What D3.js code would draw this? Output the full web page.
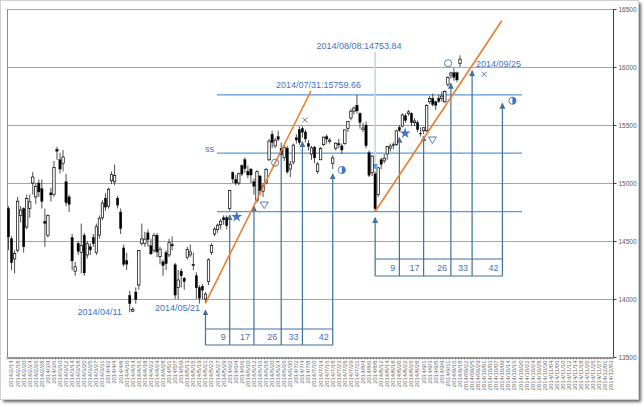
<!DOCTYPE html>
<html><head><meta charset="utf-8">
<script src="https://cdn.jsdelivr.net/npm/d3@7"></script>
<style>
body{margin:0;background:#fff}
svg{display:block}
text{font-family:"Liberation Sans",Arial,sans-serif}
</style>
</head><body>
<svg id="c" width="644" height="407"></svg>
<script>
// ---------------- DATA ----------------
const dates = [
"2014/2/13","2014/2/14","2014/2/17","2014/2/18","2014/2/19","2014/2/20","2014/2/21","2014/2/24","2014/2/25","2014/2/26","2014/2/27","2014/2/28",
"2014/3/3","2014/3/4","2014/3/5","2014/3/6","2014/3/7","2014/3/10","2014/3/11","2014/3/12","2014/3/13","2014/3/14","2014/3/17","2014/3/18","2014/3/19","2014/3/20","2014/3/24","2014/3/25","2014/3/26","2014/3/27","2014/3/28","2014/3/31",
"2014/4/1","2014/4/2","2014/4/3","2014/4/4","2014/4/7","2014/4/8","2014/4/9","2014/4/10","2014/4/11","2014/4/14","2014/4/15","2014/4/16","2014/4/17","2014/4/18","2014/4/21","2014/4/22","2014/4/23","2014/4/24","2014/4/25","2014/4/28","2014/4/30",
"2014/5/1","2014/5/2","2014/5/7","2014/5/8","2014/5/9","2014/5/12","2014/5/13","2014/5/14","2014/5/15","2014/5/16","2014/5/19","2014/5/20","2014/5/21","2014/5/22","2014/5/23","2014/5/26","2014/5/27","2014/5/28","2014/5/29","2014/5/30",
"2014/6/2","2014/6/3","2014/6/4","2014/6/5","2014/6/6","2014/6/9","2014/6/10","2014/6/11","2014/6/12","2014/6/13","2014/6/16","2014/6/17","2014/6/18","2014/6/19","2014/6/20","2014/6/23","2014/6/24","2014/6/25","2014/6/26","2014/6/27","2014/6/30",
"2014/7/1","2014/7/2","2014/7/3","2014/7/4","2014/7/7","2014/7/8","2014/7/9","2014/7/10","2014/7/11","2014/7/14","2014/7/15","2014/7/16","2014/7/17","2014/7/18","2014/7/22","2014/7/23","2014/7/24","2014/7/25","2014/7/28","2014/7/29","2014/7/30","2014/7/31",
"2014/8/1","2014/8/4","2014/8/5","2014/8/6","2014/8/7","2014/8/8","2014/8/11","2014/8/12","2014/8/13","2014/8/14","2014/8/15","2014/8/18","2014/8/19","2014/8/20","2014/8/21","2014/8/22","2014/8/25","2014/8/26","2014/8/27","2014/8/28","2014/8/29",
"2014/9/1","2014/9/2","2014/9/3","2014/9/4","2014/9/5","2014/9/8","2014/9/9","2014/9/10","2014/9/11","2014/9/12","2014/9/16","2014/9/17","2014/9/18",
"2014/09/19","2014/09/22","2014/09/24","2014/09/25","2014/09/26","2014/09/29","2014/09/30",
"2014/10/01","2014/10/02","2014/10/03","2014/10/06","2014/10/07","2014/10/08","2014/10/09","2014/10/10","2014/10/14","2014/10/15","2014/10/16","2014/10/17","2014/10/20","2014/10/21","2014/10/22","2014/10/23","2014/10/24","2014/10/27","2014/10/28","2014/10/29","2014/10/30","2014/10/31",
"2014/11/04","2014/11/05","2014/11/06","2014/11/07","2014/11/10","2014/11/11","2014/11/12","2014/11/13","2014/11/14","2014/11/17","2014/11/18","2014/11/19","2014/11/20","2014/11/21","2014/11/25","2014/11/26","2014/11/27","2014/11/28",
"2014/12/01","2014/12/02","2014/12/03"];

const open = [14780,14520,14345,14420,14720,14780,14620,14780,15000,14880,15000,14950,
14670,14550,14915,14900,15290,15200,15170,15010,14880,14530,14240,14480,14400,14550,14380,14450,14530,14400,14550,14700,
14870,14800,15020,15010,14870,14750,14440,14330,14030,13895,14060,14120,14480,14480,14570,14460,14420,14550,14365,14320,14400,
14380,14470,14295,14100,14240,14180,14360,14380,14290,14200,14100,14110,14000,14150,14400,14560,14600,14640,14700,14700,
14780,15090,15030,15000,15150,15200,15100,15120,15010,14850,15060,14930,15000,15200,15420,15320,15400,15300,15220,15300,15120,
15180,15390,15460,15470,15440,15340,15250,15310,15100,15200,15330,15400,15360,15170,15300,15340,15320,15340,15470,15560,15620,15670,
15600,15460,15500,15260,15090,15080,14900,15200,15190,15250,15300,15330,15330,15480,15490,15580,15600,15600,15520,15520,15430,
15450,15450,15700,15730,15700,15730,15730,15700,15850,15930,15950,15950,16030];

const high = [14800,14540,14420,14880,14800,14790,14900,14900,15094,15000,15030,15030,
14780,14730,14960,15190,15312,15260,15283,15080,14900,14560,14320,14500,14650,14570,14500,14480,14560,14650,14720,14850,
14910,14960,15100,15160,14890,14780,14470,14400,14070,13930,14100,14420,14650,14580,14600,14520,14570,14570,14450,14340,14420,
14520,14540,14310,14250,14260,14190,14450,14470,14400,14230,14120,14130,14060,14350,14480,14620,14650,14690,14720,14720,
14940,15100,15070,15090,15160,15220,15150,15130,15040,15110,15070,15000,15130,15380,15450,15390,15450,15350,15320,15320,15190,
15340,15420,15490,15490,15460,15370,15320,15320,15180,15310,15400,15420,15390,15240,15350,15380,15340,15460,15530,15640,15660,15759.66,
15610,15520,15530,15280,15240,15100,15140,15220,15250,15320,15340,15350,15460,15500,15600,15600,15630,15610,15560,15540,15480,
15480,15680,15750,15770,15710,15760,15790,15800,15920,15960,15990,15960,16100];

const low = [14420,14250,14220,14400,14660,14400,14600,14700,14900,14820,14880,14780,
14450,14530,14840,14880,15200,15080,15100,14800,14750,14250,14200,14380,14220,14200,14350,14380,14450,14380,14520,14680,
14760,14780,14990,14980,14780,14560,14280,14250,13885.11,13890,13960,14080,14460,14450,14450,14380,14400,14360,14300,14200,14250,
14360,14420,14000,14000,14100,14080,14340,14360,14250,14000,13960,14000,13964.14,14120,14380,14540,14570,14600,14640,14600,
14760,15000,14980,14980,15060,15090,15040,15000,14900,14830,14900,14880,14990,15190,15300,15300,15360,15240,15190,15080,15050,
15160,15340,15330,15390,15350,15280,15200,15170,15080,15200,15320,15340,15340,15120,15280,15300,15250,15330,15440,15540,15590,15600,
15470,15440,15300,15050,15060,14753.84,14880,15120,15170,15200,15270,15290,15320,15440,15480,15520,15580,15490,15490,15440,15400,
15420,15440,15680,15660,15630,15690,15700,15690,15830,15900,15880,15870,16000];

const close = [14534.73,14313.03,14393.11,14843.24,14766.53,14449.90,14865.67,14837.68,15051.60,14970.97,14923.11,14841.07,
14652.23,14721.48,14897.63,15134.75,15274.07,15120.14,15223.72,14830.39,14815.98,14327.66,14277.67,14411.27,14462.52,14224.23,14475.30,14423.19,14477.16,14622.89,14696.03,14827.83,
14791.99,14946.32,15071.88,15063.77,14808.85,14606.88,14299.69,14300.12,13960.05,13910.16,13996.81,14417.68,14518.20,14516.27,14512.39,14388.77,14546.27,14404.99,14429.26,14288.23,14304.11,
14485.13,14457.51,14033.45,14163.78,14199.59,14149.52,14425.44,14405.76,14298.21,14096.59,14006.44,14075.25,14042.17,14337.79,14462.17,14602.52,14636.52,14670.95,14681.72,14632.38,
14935.92,15034.25,14999.66,15079.83,15077.24,15124.00,15069.48,15068.61,14973.04,15097.84,14933.29,14975.97,15115.80,15361.16,15349.42,15369.28,15376.24,15266.61,15308.49,15095.00,15162.10,
15326.20,15369.97,15348.29,15437.13,15379.44,15314.41,15302.65,15216.47,15164.04,15296.82,15395.16,15379.09,15370.26,15215.71,15343.28,15328.56,15284.42,15457.87,15529.40,15618.95,15646.23,15620.77,
15523.11,15474.50,15320.31,15066.04,15232.37,14778.37,15130.52,15161.31,15213.63,15314.57,15318.34,15322.60,15449.79,15454.45,15586.20,15539.19,15613.25,15521.22,15534.82,15459.86,15424.59,
15476.60,15668.68,15728.35,15676.18,15668.60,15705.11,15749.15,15788.78,15909.20,15948.29,15911.53,15888.67,16067.57];

const yTicks = [13500,14000,14500,15000,15500,16000,16500];
const levelValues = [15759.66, 15256.75, 14753.84];
const levelLabels = ["2014/07/31:15759.66", "ss", ""];
const countLabels = ["9","17","26","33","42"];
const countOffsets = [8,16,25,32,42];
const countStarts = [65, 121];                 // 2014/05/21 and 2014/08/08
const arrowTips1 = [13905,14724,14802,15284,15356,15078];
const arrowTips2 = [14701,15394,15405,15859,15968,15687];
const trend1 = [[65,13964.14],[99.8,15793]];
const trend2 = [[121,14753.84],[162.8,16399]];

// ---------------- LAYOUT ----------------
const svg = d3.select("#c");
const L = 7, R = 613, T = 9, B = 357;
const n = dates.length;
const x = d3.scaleBand().domain(d3.range(n)).range([L, R]).padding(0);
const bw = x.bandwidth();
const xf = i => L + (i + 0.5) * bw;
const y = d3.scaleLinear().domain([13500, 16500]).range([B, T]);

const BLUE_TXT = "#4472c4", BLUE_LINE = "#5b9bd5", ARROW = "#41719c", ORANGE = "#ed7d31";

// frame + shadow
const defs = svg.append("defs");
const f = defs.append("filter").attr("id","sh").attr("x","-5%").attr("y","-5%").attr("width","110%").attr("height","110%");
f.append("feGaussianBlur").attr("stdDeviation",1.5);
defs.append("marker").attr("id","ah").attr("viewBox","0 0 10 10").attr("refX",9).attr("refY",5)
  .attr("markerUnits","userSpaceOnUse").attr("markerWidth",6).attr("markerHeight",7).attr("orient","auto")
  .append("path").attr("d","M0,0L10,5L0,10z").attr("fill",ARROW);
defs.append("marker").attr("id","ah2").attr("viewBox","0 0 10 10").attr("refX",9).attr("refY",5)
  .attr("markerUnits","userSpaceOnUse").attr("markerWidth",6).attr("markerHeight",7).attr("orient","auto")
  .append("path").attr("d","M0,0L10,5L0,10z").attr("fill",BLUE_LINE);

svg.append("rect").attr("x",3).attr("y",3).attr("width",638).attr("height",399).attr("fill","#666").attr("filter","url(#sh)");
svg.append("rect").attr("x",0.5).attr("y",0.5).attr("width",638).attr("height",399).attr("fill","#fff").attr("stroke","#d0d0d0");

// gridlines
svg.append("g").selectAll("line").data(yTicks.filter(v => v > 13500)).join("line")
  .attr("x1",L).attr("x2",R).attr("y1",d=>Math.round(y(d))+0.5).attr("y2",d=>Math.round(y(d))+0.5)
  .attr("stroke","#a6a6a6").attr("stroke-width",1);

// axes lines
svg.append("line").attr("x1",L+0.5).attr("x2",L+0.5).attr("y1",T).attr("y2",B).attr("stroke","#8c8c8c");
svg.append("line").attr("x1",R+0.5).attr("x2",R+0.5).attr("y1",T).attr("y2",B).attr("stroke","#404040");

// y axis (right)
const yAxis = d3.axisRight(y).tickValues(yTicks).tickSize(3).tickFormat(d3.format("d"));
const gy = svg.append("g").attr("transform",`translate(${R+0.5},0)`).call(yAxis);
gy.select(".domain").remove();
gy.selectAll("line").attr("stroke","#404040");
gy.selectAll("text").attr("x",5).attr("fill","#595959").style("font-size","6.5px");

// x axis
const xAxis = d3.axisBottom(x).tickValues(d3.range(n).filter(i => i % 2 === 1))
  .tickFormat(i => dates[i]).tickSize(0);
const gx = svg.append("g").attr("transform",`translate(0,${B+0.5})`).call(xAxis);
gx.select(".domain").attr("stroke","#404040");
gx.selectAll("text").attr("transform","rotate(-90)").attr("text-anchor","end")
  .attr("x",-3).attr("y",0).attr("dy","0.32em").attr("fill","#6b6b6b").style("font-size","6px");
// category tick marks
svg.append("g").selectAll("line").data(d3.range(n + 1)).join("line")
  .attr("x1",i=>L+i*bw).attr("x2",i=>L+i*bw).attr("y1",B).attr("y2",B+2.5)
  .attr("stroke","#606060").attr("stroke-width",0.6);

// level lines
const lvlX1 = xf(68.8), lvlX2 = xf(169.5);
svg.append("g").selectAll("line").data(levelValues).join("line")
  .attr("x1",lvlX1).attr("x2",lvlX2).attr("y1",d=>y(d)).attr("y2",d=>y(d))
  .attr("stroke",BLUE_LINE).attr("stroke-width",1.2);

// vertical guide for 8/8 label
svg.append("line").attr("x1",xf(121)).attr("x2",xf(121)).attr("y1",52).attr("y2",y(15120))
  .attr("stroke","#bdd7ee").attr("stroke-width",1.5).attr("marker-end","url(#ah2)");

// arrows & count boxes
const groups = [
  {start: countStarts[0], tips: arrowTips1, top: 329, bottom: 345},
  {start: countStarts[1], tips: arrowTips2, top: 259, bottom: 276}
];
groups.forEach(g => {
  const xs = [g.start].concat(countOffsets.map(o => g.start + o));
  const gg = svg.append("g");
  gg.selectAll("line.ar").data(xs).join("line").attr("class","ar")
    .attr("x1",d=>xf(d)).attr("x2",d=>xf(d)).attr("y1",g.bottom).attr("y2",(d,i)=>y(g.tips[i]))
    .attr("stroke",ARROW).attr("stroke-width",1.2).attr("marker-end","url(#ah)");
  gg.append("line").attr("x1",xf(xs[0])).attr("x2",xf(xs[5])).attr("y1",g.top).attr("y2",g.top).attr("stroke",ARROW).attr("stroke-width",1);
  gg.append("line").attr("x1",xf(xs[0])).attr("x2",xf(xs[5])).attr("y1",g.bottom).attr("y2",g.bottom).attr("stroke",ARROW).attr("stroke-width",1);
  gg.selectAll("text").data(countLabels).join("text")
    .attr("x",(d,i)=>xf(xs[i+1]) - 4).attr("y",(g.top+g.bottom)/2 + 3.2)
    .attr("text-anchor","end").attr("fill",BLUE_TXT).style("font-size","9px").text(d=>d);
});

// candlesticks
const candles = svg.append("g");
d3.range(close.length).forEach(i => {
  const o = open[i], c = close[i];
  const h = Math.max(high[i], o, c), l = Math.min(low[i], o, c);
  const cx = xf(i);
  candles.append("line").attr("x1",cx).attr("x2",cx).attr("y1",y(h)).attr("y2",y(l))
    .attr("stroke","#222").attr("stroke-width",0.8);
  const top = y(Math.max(o,c)), bot = y(Math.min(o,c));
  const up = c >= o;
  candles.append("rect").attr("x",cx-1.2).attr("width",2.4)
    .attr("y",top).attr("height",Math.max(0.8, bot-top))
    .attr("fill", up ? "#fff" : "#000").attr("stroke","#000").attr("stroke-width",up?0.7:0.3);
});

// trend lines
[trend1, trend2].forEach(t => {
  svg.append("line").attr("x1",xf(t[0][0])).attr("y1",y(t[0][1])).attr("x2",xf(t[1][0])).attr("y2",y(t[1][1]))
    .attr("stroke",ORANGE).attr("stroke-width",1.6);
});

// markers
const markerDefs = [
  {type:"star", i:75.3, v:14709}, {type:"tri", i:84.4, v:14810}, {type:"circ", i:88, v:15175}, {type:"x", i:97.8, v:15543}, {type:"half", i:110, v:15112},
  {type:"star", i:130.9, v:15428}, {type:"tri", i:139.9, v:15371}, {type:"circ", i:145.1, v:16032}, {type:"x", i:157, v:15937}, {type:"half", i:166.3, v:15709}
];
const mg = svg.append("g");
markerDefs.forEach(m => {
  const mx = xf(m.i), my = y(m.v);
  if (m.type === "star") {
    mg.append("path").attr("d", d3.symbol(d3.symbolStar, 38)()).attr("transform",`translate(${mx},${my})`).attr("fill",BLUE_TXT);
  } else if (m.type === "tri") {
    mg.append("path").attr("d",`M${mx-4},${my-3}L${mx+4},${my-3}L${mx},${my+3.5}Z`).attr("fill","none").attr("stroke",BLUE_TXT).attr("stroke-width",0.9);
  } else if (m.type === "circ") {
    mg.append("circle").attr("cx",mx).attr("cy",my).attr("r",3.6).attr("fill","none").attr("stroke",BLUE_TXT).attr("stroke-width",0.9);
  } else if (m.type === "x") {
    mg.append("path").attr("d",`M${mx-2.5},${my-2.5}L${mx+2.5},${my+2.5}M${mx+2.5},${my-2.5}L${mx-2.5},${my+2.5}`).attr("stroke",BLUE_TXT).attr("stroke-width",0.9);
  } else {
    mg.append("circle").attr("cx",mx).attr("cy",my).attr("r",3.6).attr("fill","#fff").attr("stroke",BLUE_TXT).attr("stroke-width",0.9);
    mg.append("path").attr("d",`M${mx},${my-3.6}A3.6,3.6 0 0 1 ${mx},${my+3.6}Z`).attr("fill",BLUE_TXT);
  }
});

// text annotations
const notes = [
  {t:"2014/07/31:15759.66", x:276, y:87.5},
  {t:"2014/08/08:14753.84", x:316.5, y:48.8},
  {t:"2014/09/25", x:476, y:66.5},
  {t:"2014/04/11", x:77.5, y:315},
  {t:"2014/05/21", x:155, y:310.5},
  {t:levelLabels[1], x:205, y:151.5}
];
svg.append("g").selectAll("text").data(notes).join("text")
  .attr("x",d=>d.x).attr("y",d=>d.y).attr("fill",BLUE_TXT).style("font-size","9px").text(d=>d.t);
</script>
</body></html>
